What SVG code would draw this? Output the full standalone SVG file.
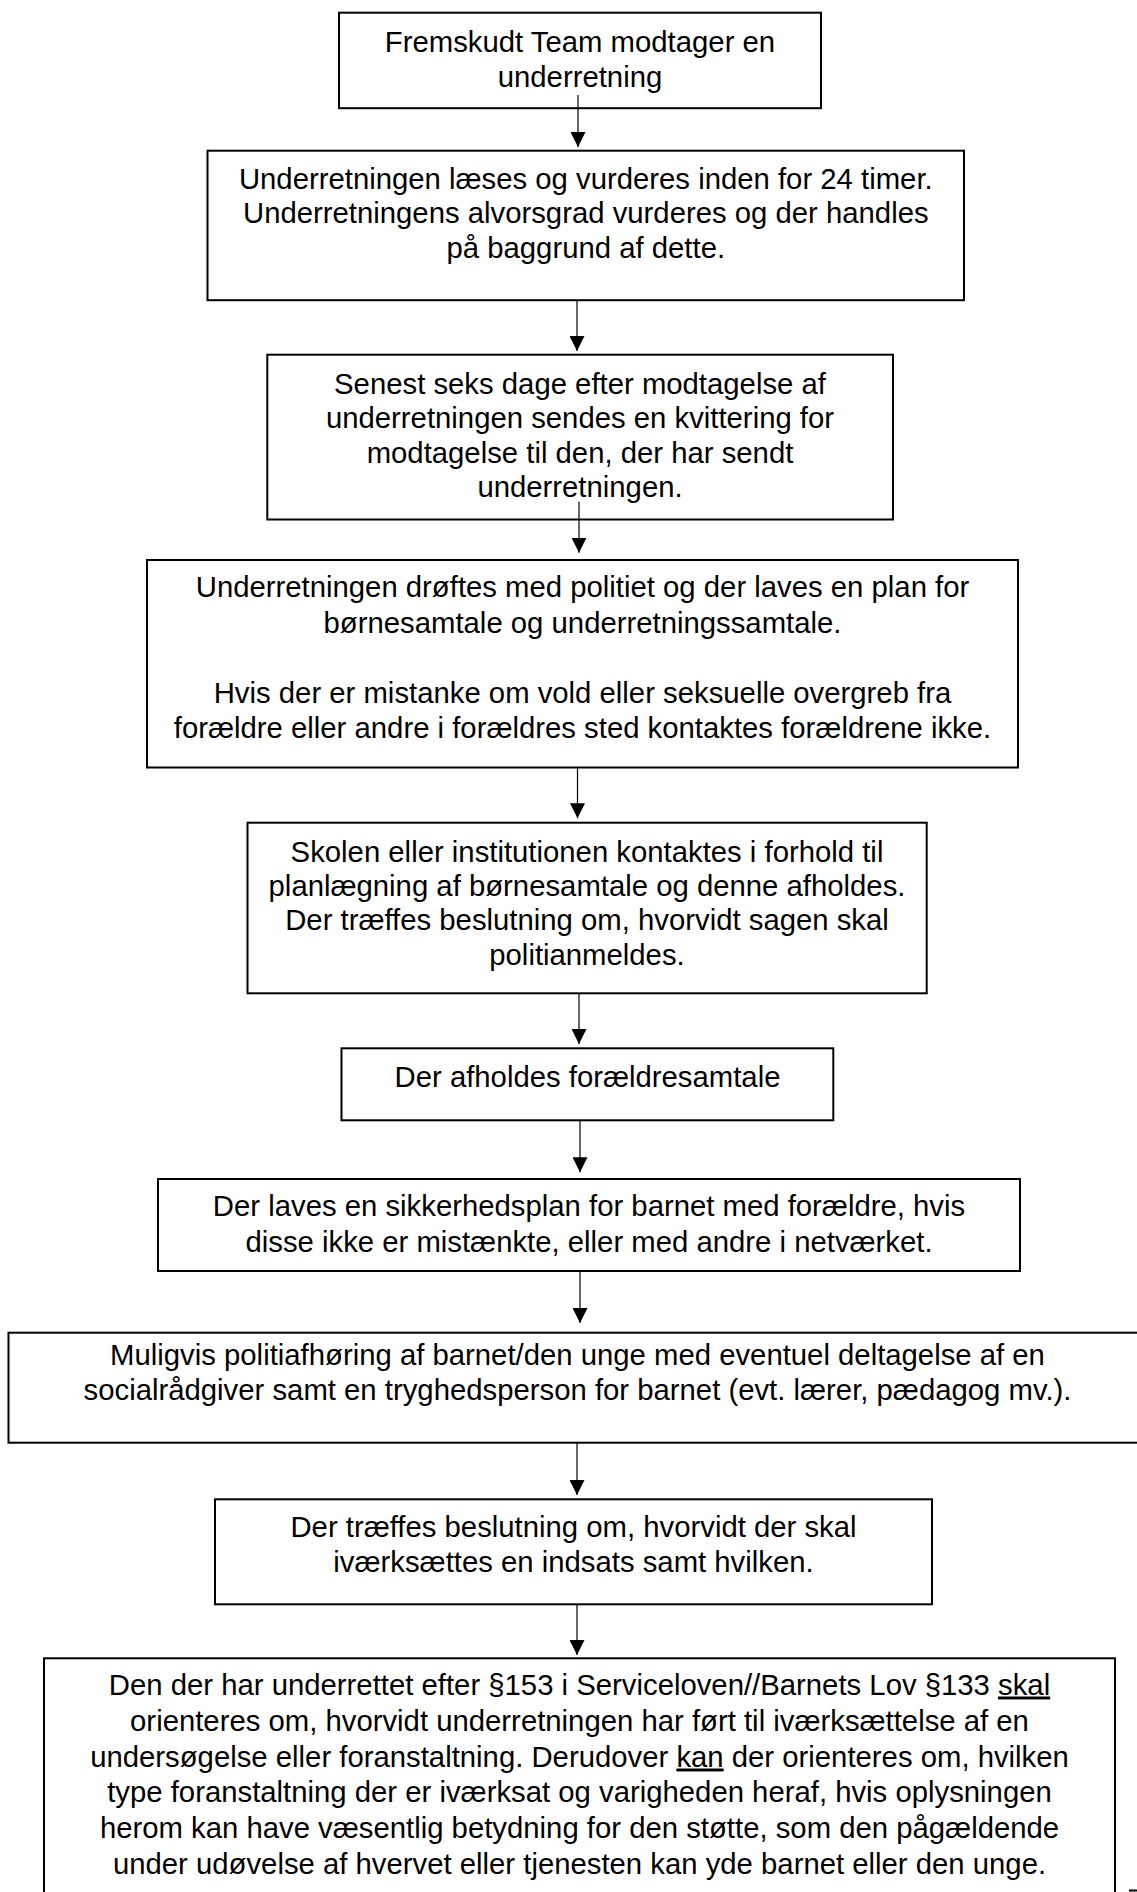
<svg xmlns="http://www.w3.org/2000/svg" width="1137" height="1892" viewBox="0 0 1137 1892">
<defs>
<style>
.box{fill:#fff;stroke:#000;stroke-width:2}
.t{font-family:"Liberation Sans",Arial,sans-serif;font-size:29.3px;fill:#000;text-anchor:middle}
.c{stroke:#000;stroke-width:1.2;fill:none;marker-end:url(#ah)}
.u{text-decoration:underline}
</style>
<marker id="ah" markerUnits="userSpaceOnUse" markerWidth="15" markerHeight="15" refX="15" refY="7.5" orient="auto">
<path d="M0,0 L15,7.5 L0,15 Z" fill="#000"/>
</marker>
</defs>
<rect width="1137" height="1892" fill="#fff"/>
<g id="n1"><rect class="box" x="339" y="12.7" width="482" height="95.5"/>
<text class="t" x="580" y="51.5">Fremskudt Team modtager en</text>
<text class="t" x="580" y="87">underretning</text></g>
<g id="n2"><rect class="box" x="207.5" y="150.7" width="756.5" height="149.5"/>
<text class="t" x="585.8" y="188.5">Underretningen læses og vurderes inden for 24 timer.</text>
<text class="t" x="585.8" y="222.5">Underretningens alvorsgrad vurderes og der handles</text>
<text class="t" x="585.8" y="257.5">på baggrund af dette.</text></g>
<g id="n3"><rect class="box" x="267.3" y="354.7" width="625.7" height="164.8"/>
<text class="t" x="580" y="393.5">Senest seks dage efter modtagelse af</text>
<text class="t" x="580" y="428">underretningen sendes en kvittering for</text>
<text class="t" x="580" y="462.5">modtagelse til den, der har sendt</text>
<text class="t" x="580" y="497">underretningen.</text></g>
<g id="n4"><rect class="box" x="147" y="560" width="871" height="207.5"/>
<text class="t" x="582.5" y="597">Underretningen drøftes med politiet og der laves en plan for</text>
<text class="t" x="582.5" y="632.5">børnesamtale og underretningssamtale.</text>
<text class="t" x="582.5" y="703">Hvis der er mistanke om vold eller seksuelle overgreb fra</text>
<text class="t" x="582.5" y="738">forældre eller andre i forældres sted kontaktes forældrene ikke.</text></g>
<g id="n5"><rect class="box" x="247.5" y="822.7" width="679.2" height="170.6"/>
<text class="t" x="587" y="861.5">Skolen eller institutionen kontaktes i forhold til</text>
<text class="t" x="587" y="895.5">planlægning af børnesamtale og denne afholdes.</text>
<text class="t" x="587" y="930">Der træffes beslutning om, hvorvidt sagen skal</text>
<text class="t" x="587" y="965">politianmeldes.</text></g>
<g id="n6"><rect class="box" x="341.5" y="1048.3" width="491.8" height="72"/>
<text class="t" x="587.5" y="1086.5">Der afholdes forældresamtale</text></g>
<g id="n7"><rect class="box" x="158" y="1179" width="862" height="92"/>
<text class="t" x="589" y="1215.5">Der laves en sikkerhedsplan for barnet med forældre, hvis</text>
<text class="t" x="589" y="1252">disse ikke er mistænkte, eller med andre i netværket.</text></g>
<g id="n8"><rect class="box" x="8.5" y="1332.7" width="1138" height="110"/>
<text class="t" x="577.5" y="1365">Muligvis politiafhøring af barnet/den unge med eventuel deltagelse af en</text>
<text class="t" x="577.5" y="1400">socialrådgiver samt en tryghedsperson for barnet (evt. lærer, pædagog mv.).</text></g>
<g id="n9"><rect class="box" x="215" y="1499.3" width="717" height="105"/>
<text class="t" x="573.5" y="1536.5">Der træffes beslutning om, hvorvidt der skal</text>
<text class="t" x="573.5" y="1571.5">iværksættes en indsats samt hvilken.</text></g>
<g id="n10"><rect class="box" x="44" y="1658.3" width="1071" height="260"/>
<text class="t" x="579.5" y="1694.5">Den der har underrettet efter §153 i Serviceloven//Barnets Lov §133 <tspan class="u">skal</tspan></text>
<text class="t" x="579.5" y="1730.5">orienteres om, hvorvidt underretningen har ført til iværksættelse af en</text>
<text class="t" x="579.5" y="1766.5">undersøgelse eller foranstaltning. Derudover <tspan class="u">kan</tspan> der orienteres om, hvilken</text>
<text class="t" x="579.5" y="1802">type foranstaltning der er iværksat og varigheden heraf, hvis oplysningen</text>
<text class="t" x="579.5" y="1838">herom kan have væsentlig betydning for den støtte, som den pågældende</text>
<text class="t" x="579.5" y="1874">under udøvelse af hvervet eller tjenesten kan yde barnet eller den unge.</text></g>
<g id="connectors">
<line class="c" x1="578" y1="95" x2="578" y2="147"/>
<line class="c" x1="577" y1="300.2" x2="577" y2="351"/>
<line class="c" x1="579" y1="501.7" x2="579" y2="552.7"/>
<line class="c" x1="577.5" y1="767.5" x2="577.5" y2="818.3"/>
<line class="c" x1="579" y1="993.3" x2="579" y2="1044"/>
<line class="c" x1="580" y1="1120.3" x2="580" y2="1172.3"/>
<line class="c" x1="580" y1="1271" x2="580" y2="1323"/>
<line class="c" x1="577" y1="1442.7" x2="577" y2="1495"/>
<line class="c" x1="577" y1="1604.3" x2="577" y2="1655"/>
</g>
<line x1="1129" y1="1890.5" x2="1137" y2="1890.5" stroke="#000" stroke-width="2"/>
</svg>
